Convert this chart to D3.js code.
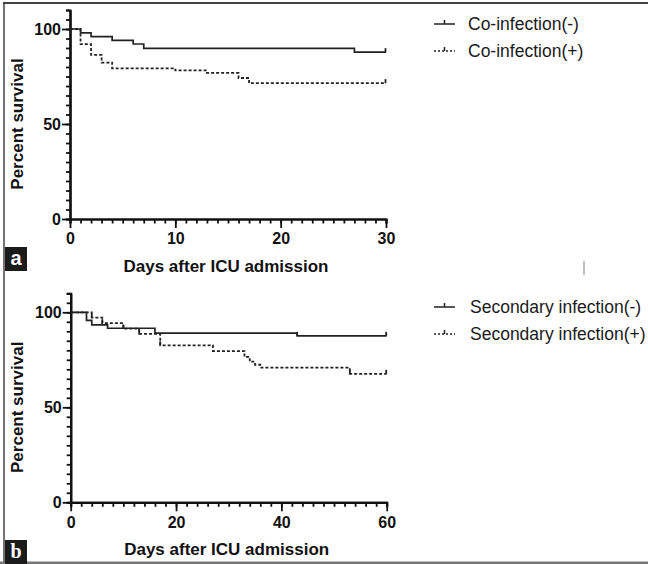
<!DOCTYPE html>
<html>
<head>
<meta charset="utf-8">
<script src="https://cdn.jsdelivr.net/npm/d3@7"></script>
<style>
  body { margin: 0; background: #fff; }
  svg { display: block; font-family: "Liberation Sans", Arial, sans-serif; }
  .axis path, .axis line { stroke: #111; }
  .axis path { stroke-width: 2.2; }
  .axis line { stroke-width: 1.8; }
  .axis text { font-size: 16px; font-weight: bold; fill: #111; }
</style>
</head>
<body>
<script>
// panel a: co-infection
var coNegDays = [0, 1, 2, 4, 6, 7, 27, 30];
var coNegSurv = [100, 98.0, 96.0, 94.0, 92.1, 89.8, 87.8, 87.8];
var coPosDays = [0, 1, 2, 3, 4, 10, 13, 16, 17, 30];
var coPosSurv = [100, 92.0, 86.4, 82.3, 79.3, 78.2, 76.9, 74.2, 71.5, 71.5];
var coNegCensor = [30];
var coPosCensor = [30];

// panel b: secondary infection
var secNegDays = [0, 3, 4, 7, 16, 43, 60];
var secNegSurv = [100, 95.8, 93.4, 91.6, 89.0, 87.6, 87.6];
var secPosDays = [0, 4, 6, 10, 13, 17, 27, 33, 34, 35, 36, 53, 60];
var secPosSurv = [100, 97.2, 94.3, 91.4, 88.6, 82.6, 79.6, 76.5, 74.0, 72.4, 70.9, 67.6, 67.6];
var secNegCensor = [43, 60];
var secPosCensor = [4, 6, 10, 13, 17, 53, 60];

var yMajor = [0, 50, 100];
var xTicksA = [0, 10, 20, 30];
var xTicksB = [0, 20, 40, 60];
var legendA = ["Co-infection(-)", "Co-infection(+)"];
var legendB = ["Secondary infection(-)", "Secondary infection(+)"];

var svg = d3.select("body").append("svg")
    .attr("width", 648)
    .attr("height", 564);

// frame
svg.append("line").attr("x1", 3).attr("x2", 648).attr("y1", 3).attr("y2", 3)
    .attr("stroke", "#444").attr("stroke-width", 2);
svg.append("line").attr("x1", 4).attr("x2", 4).attr("y1", 3).attr("y2", 564)
    .attr("stroke", "#444").attr("stroke-width", 1.5);
svg.append("rect").attr("x", 0).attr("y", 561.5).attr("width", 648).attr("height", 3)
    .attr("fill", "#777");
svg.append("line").attr("x1", 584).attr("x2", 584).attr("y1", 261).attr("y2", 275)
    .attr("stroke", "#aaa").attr("stroke-width", 1.5);

function drawPanel(o) {
  var x = d3.scaleLinear().domain([0, o.xMax]).range([o.x0, o.x1]);
  var y = d3.scaleLinear().domain([0, 110]).range([o.y0, o.y0 - 110 * 1.9]);
  var g = svg.append("g");

  // minor ticks
  g.append("g").attr("class", "axis")
      .attr("transform", "translate(" + o.x0 + ",0)")
      .call(d3.axisLeft(y).tickValues(d3.range(0, 111, 5)).tickSize(4).tickFormat(""));
  g.append("g").attr("class", "axis")
      .attr("transform", "translate(0," + o.y0 + ")")
      .call(d3.axisBottom(x).tickValues(d3.range(0, o.xMax + 0.1, o.xMax / 30)).tickSize(4.5).tickFormat(""));

  // major ticks
  g.append("g").attr("class", "axis")
      .attr("transform", "translate(" + o.x0 + ",0)")
      .call(d3.axisLeft(y).tickValues(yMajor).tickSize(8).tickPadding(1).tickSizeOuter(0));
  g.append("g").attr("class", "axis")
      .attr("transform", "translate(0," + o.y0 + ")")
      .call(d3.axisBottom(x).tickValues(o.xTicks).tickSize(9).tickPadding(5).tickSizeOuter(0));

  g.selectAll(".axis .domain").attr("stroke-width", 2.2);

  // titles
  g.append("text")
      .attr("x", (o.x0 + o.x1) / 2 - 2).attr("y", o.y0 + 53)
      .attr("text-anchor", "middle")
      .attr("font-size", 17).attr("font-weight", "bold").attr("fill", "#111")
      .text("Days after ICU admission");
  g.append("text")
      .attr("transform", "translate(23," + y(50) + ") rotate(-90)")
      .attr("text-anchor", "middle")
      .attr("font-size", 17).attr("font-weight", "bold").attr("fill", "#111")
      .text("Percent survival");

  var line = d3.line().x(function(d) { return x(d[0]); }).y(function(d) { return y(d[1]); })
      .curve(d3.curveStepAfter);

  o.series.forEach(function(s) {
    var pts = d3.zip(s.days, s.surv);
    g.append("path")
        .datum(pts)
        .attr("fill", "none")
        .attr("stroke", "#222")
        .attr("stroke-width", s.dash ? 1.8 : 1.7)
        .attr("stroke-dasharray", s.dash ? "3,2" : null)
        .attr("d", line);
    var surv = d3.scaleThreshold().domain(s.days.slice(1)).range(s.surv);
    g.selectAll(null)
        .data(s.censor)
        .enter().append("line")
        .attr("x1", function(d) { return x(d) - (d === o.xMax ? 0.5 : 0); })
        .attr("x2", function(d) { return x(d) - (d === o.xMax ? 0.5 : 0); })
        .attr("y1", function(d) { return y(surv(d)); })
        .attr("y2", function(d) { return y(surv(d)) - 4; })
        .attr("stroke", "#222").attr("stroke-width", 1.8);
  });

  // legend
  o.legend.forEach(function(t, i) {
    var ly = o.legendY + i * 27;
    g.append("line")
        .attr("x1", 434).attr("x2", 455).attr("y1", ly).attr("y2", ly)
        .attr("stroke", "#222").attr("stroke-width", 1.5)
        .attr("stroke-dasharray", i ? "2,2" : null);
    g.append("line")
        .attr("x1", 444.5).attr("x2", 444.5).attr("y1", ly).attr("y2", ly - 4)
        .attr("stroke", "#222").attr("stroke-width", 1.5);
    g.append("text")
        .attr("x", o.legendX).attr("y", ly + 6)
        .attr("font-size", 17.5).attr("fill", "#1a1a1a")
        .text(t);
  });

  // panel letter
  g.append("rect").attr("x", 5).attr("y", o.letterY).attr("width", 22).attr("height", 24)
      .attr("fill", "#1b1b1b");
  g.append("text")
      .attr("x", 16).attr("y", o.letterY + 18)
      .attr("text-anchor", "middle")
      .attr("font-family", o.letterFont)
      .attr("font-size", 20).attr("font-weight", "bold").attr("fill", "#fff")
      .text(o.letter);
}

drawPanel({
  xMax: 30, x0: 70, x1: 386, y0: 219, xTicks: xTicksA,
  series: [
    { days: coNegDays, surv: coNegSurv, censor: coNegCensor, dash: false },
    { days: coPosDays, surv: coPosSurv, censor: coPosCensor, dash: true }
  ],
  legend: legendA, legendX: 468, legendY: 24,
  letter: "a", letterY: 247, letterFont: "Liberation Sans, Arial, sans-serif"
});

drawPanel({
  xMax: 60, x0: 70.7, x1: 386.7, y0: 502.3, xTicks: xTicksB,
  series: [
    { days: secNegDays, surv: secNegSurv, censor: secNegCensor, dash: false },
    { days: secPosDays, surv: secPosSurv, censor: secPosCensor, dash: true }
  ],
  legend: legendB, legendX: 470, legendY: 307,
  letter: "b", letterY: 540, letterFont: "Liberation Serif, serif"
});
</script>
</body>
</html>
